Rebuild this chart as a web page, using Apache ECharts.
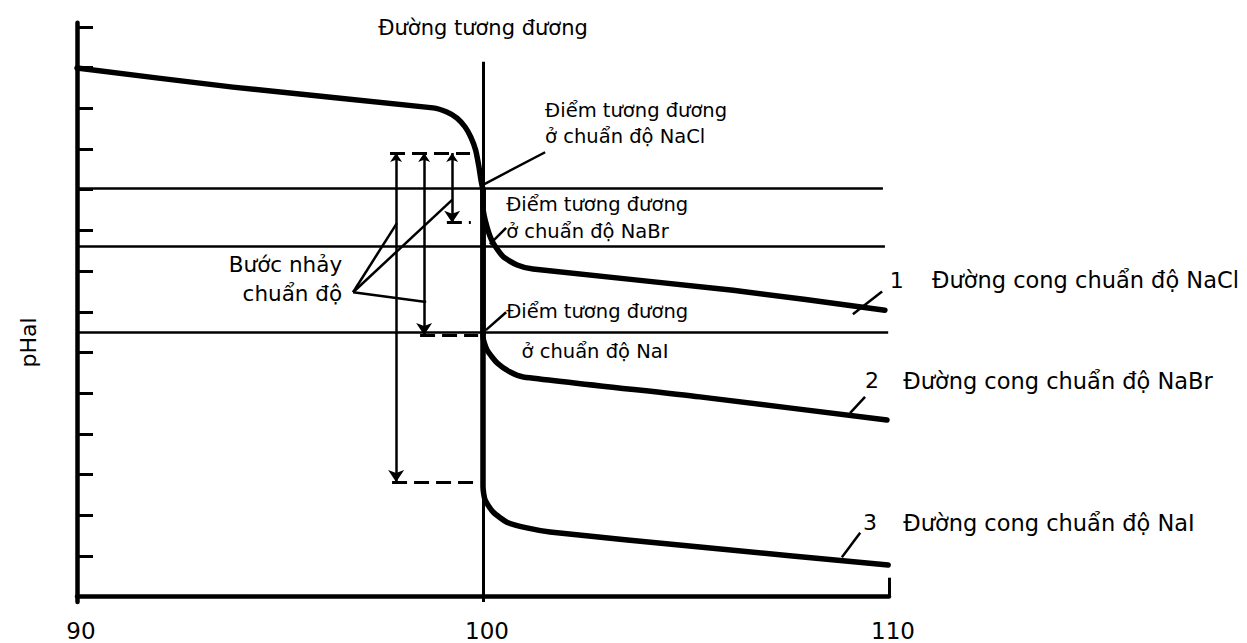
<!DOCTYPE html>
<html><head><meta charset="utf-8">
<script src="https://cdn.jsdelivr.net/npm/echarts@6/dist/echarts.min.js"></script>
<style>html,body{margin:0;padding:0;background:#fff}#c{width:1247px;height:643px}</style>
</head><body><div id="c"></div>
<script>
// ---- data (x: % titrant added, y: pHal in axis units) ----
const xTickValues = [90, 100, 110];
const yTickValues = [1, 2, 3, 4, 5, 6, 7, 8, 9, 10, 11, 12, 13, 14];

const commonBranch = [[90, 12.99], [93.84, 12.52], [98.77, 12.01], [99.11, 11.91], [99.36, 11.76], [99.56, 11.54], [99.70, 11.29], [99.82, 10.97], [99.90, 10.56], [99.95, 10.24], [100, 10.0]];
const naclBranch = [[100, 10.0], [100, 9.57], [100.1, 9.08], [100.25, 8.69], [100.5, 8.35], [100.84, 8.15], [101.23, 8.05], [106.16, 7.53], [109.9, 7.04]];
const nabrBranch = [[100, 10.0], [100, 6.38], [100.1, 6.06], [100.35, 5.74], [100.67, 5.52], [100.99, 5.40], [105.34, 4.91], [109.95, 4.34]];
const naiBranch = [[100, 10.0], [100, 2.70], [100.05, 2.38], [100.25, 2.08], [100.59, 1.83], [101.08, 1.69], [101.65, 1.59], [105.34, 1.22], [109.98, 0.78]];

const equivalenceVolume = 100;
const equivalenceLineRange = [-0.13, 13.14];
const eqLevelValues = [10.03, 8.61, 6.49];
const eqLevelEnds = [109.85, 109.9, 109.98];

const jumpX = [97.86, 98.55, 99.24];
const jumpTop = 10.9;
const jumpBottom = [2.82, 6.43, 9.19];
const jumpTopDash = [97.71, 99.68];
const jumpBottomDashStart = [97.76, 98.45, 99.11];
const jumpBottomDashEnd = [99.93, 99.88, 99.70];

const leaderLines = [
  [[96.80, 7.48], [97.88, 9.18]],
  [[96.80, 7.48], [99.24, 9.75]],
  [[96.80, 7.48], [98.60, 7.24]],
  [[101.53, 10.92], [100.0, 10.12]],
  [[100.57, 9.06], [100.17, 8.66]],
  [[100.57, 6.99], [100.07, 6.55]],
  [[109.83, 7.50], [109.11, 6.94]],
  [[109.41, 4.91], [109.04, 4.51]],
  [[109.29, 1.57], [108.84, 0.97]]
];

const annotationTexts = ['Đường tương đương', 'Điểm tương đương\nở chuẩn độ NaCl', 'Điểm tương đương\nở chuẩn độ NaBr', 'Điểm tương đương', 'ở chuẩn độ NaI', 'Bước nhảy\nchuẩn độ', '1', 'Đường cong chuẩn độ NaCl', '2', 'Đường cong chuẩn độ NaBr', '3', 'Đường cong chuẩn độ NaI'];
const annotationAnchors = [[100, 13.98], [101.53, 11.62], [100.57, 9.31], [100.57, 7.0], [100.95, 6.02], [96.53, 7.81], [110.02, 7.78], [111.06, 7.78], [109.41, 5.30], [110.35, 5.30], [109.36, 1.82], [110.35, 1.82]];
const annotationAlign = ['center', 'left', 'left', 'left', 'left', 'right', 'left', 'left', 'left', 'left', 'left', 'left'];
const annotationSize = [21, 19.5, 19.5, 19.5, 19.5, 21.5, 22, 22.5, 22, 22.5, 22, 22.5];

// ---- chart ----
const FONT = 'DejaVu Sans';
const chart = echarts.init(document.getElementById('c'), null, {renderer: 'svg'});

const thinLines = [];
eqLevelValues.forEach((v, i) => thinLines.push({coords: [[90, v], [eqLevelEnds[i], v]]}));
thinLines.push({coords: [[equivalenceVolume, equivalenceLineRange[0]], [equivalenceVolume, equivalenceLineRange[1]]], lineStyle: {width: 3}});
leaderLines.forEach(l => thinLines.push({coords: l}));

const dashLines = [{coords: [[jumpTopDash[0], jumpTop], [jumpTopDash[1], jumpTop]]}];
jumpBottom.forEach((b, i) => dashLines.push({coords: [[jumpBottomDashStart[i], b], [jumpBottomDashEnd[i], b]]}));

const arrowLines = jumpX.map((x, i) => ({coords: [[x, jumpTop], [x, jumpBottom[i]]]}));

const labelData = annotationTexts.map((t, i) => {
  const al = annotationAlign[i];
  return {
    value: annotationAnchors[i],
    name: t,
    itemStyle: {opacity: 1},
    label: {
      show: true,
      formatter: t,
      position: al === 'center' ? 'inside' : (al === 'left' ? 'right' : 'left'),
      distance: 0,
      align: al,
      verticalAlign: 'middle',
      fontSize: annotationSize[i],
      lineHeight: annotationSize[i] + 7,
      fontFamily: FONT,
      color: '#000',
      opacity: 1
    }
  };
});

const curveStyle = {color: '#000', width: 5.5, cap: 'round', join: 'round'};

chart.setOption({
  animation: false,
  backgroundColor: '#fff',
  grid: {left: 77, right: 358, top: 22.8, bottom: 41, containLabel: false},
  xAxis: {
    type: 'value', min: 90, max: 110, interval: 10,
    axisLine: {show: true, lineStyle: {color: '#000', width: 4.5}},
    axisTick: {show: true, inside: true, length: 19, lineStyle: {color: '#000', width: 3}},
    axisLabel: {show: true, margin: 17, fontSize: 23, fontFamily: FONT, color: '#000', padding: [0, 0, 0, 8]},
    splitLine: {show: false}
  },
  yAxis: {
    type: 'value', min: -0.13, max: 14.1,
    name: 'pHal', nameLocation: 'middle', nameGap: 38,
    nameTextStyle: {fontSize: 22, fontFamily: FONT, color: '#000', padding: [0, 60, 0, 0]},
    axisLine: {show: true, lineStyle: {color: '#000', width: 4.5}},
    axisTick: {show: true, inside: true, length: 16, customValues: yTickValues, lineStyle: {color: '#000', width: 3}},
    axisLabel: {show: false, customValues: yTickValues},
    splitLine: {show: false}
  },
  series: [
    {type: 'lines', coordinateSystem: 'cartesian2d', symbol: 'none', lineStyle: {color: '#000', width: 2.5, opacity: 1}, data: thinLines, z: 2},
    {type: 'lines', coordinateSystem: 'cartesian2d', symbol: 'none', lineStyle: {color: '#000', width: 3, type: [15, 7], opacity: 1}, data: dashLines, z: 2},
    {type: 'lines', coordinateSystem: 'cartesian2d', symbol: ['arrow', 'arrow'], symbolSize: [9, 12], lineStyle: {color: '#000', width: 2.5, opacity: 1}, data: arrowLines, z: 3},
    {type: 'line', name: 'common', data: commonBranch, showSymbol: false, symbol: 'none', smooth: 0.2, lineStyle: curveStyle, z: 5},
    {type: 'line', name: 'NaCl', data: naclBranch, showSymbol: false, symbol: 'none', smooth: 0.2, lineStyle: curveStyle, z: 5},
    {type: 'line', name: 'NaBr', data: nabrBranch, showSymbol: false, symbol: 'none', smooth: 0.2, lineStyle: curveStyle, z: 5},
    {type: 'line', name: 'NaI', data: naiBranch, showSymbol: false, symbol: 'none', smooth: 0.2, lineStyle: curveStyle, z: 5},
    {type: 'scatter', symbolSize: 0, clip: false, silent: true, itemStyle: {opacity: 1}, data: labelData, z: 6}
  ]
});
</script></body></html>
